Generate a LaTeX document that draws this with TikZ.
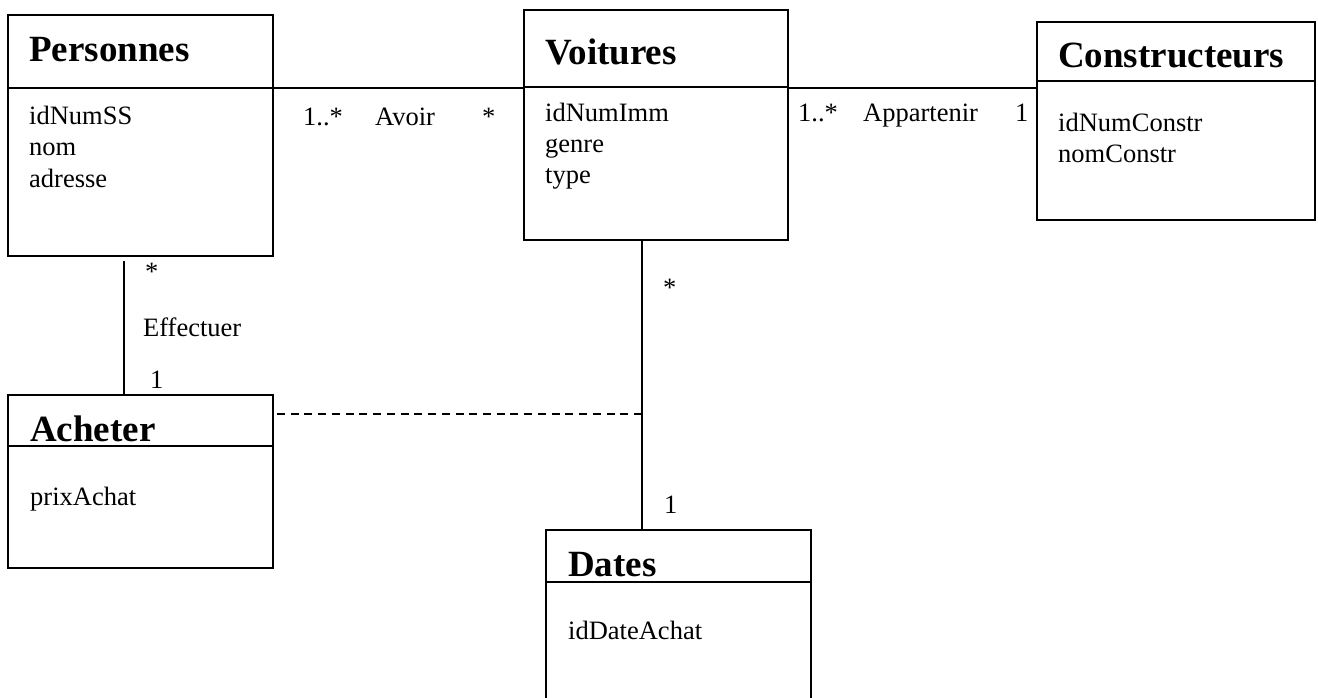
\documentclass[tikz,border=0pt]{standalone}
\usepackage{fontspec}
\setmainfont{Liberation Serif}
\usetikzlibrary{calc}
\begin{document}
\begin{tikzpicture}[x=1pt,y=-1pt,
  box/.style={draw, line width=2pt, inner sep=0pt, outer sep=0pt, anchor=north west},
  divider/.style={line width=2pt},
  conn/.style={line width=1.8pt},
  dashconn/.style={line width=1.8pt, dash pattern=on 8pt off 5.73pt},
  title/.style={anchor=base west, inner sep=0pt, font=\fontsize{37}{44}\selectfont\bfseries},
  attr/.style={anchor=base west, inner sep=0pt, font=\fontsize{26.5}{31}\selectfont},
  lbl/.style={anchor=base west, inner sep=0pt, font=\fontsize{26.5}{31}\selectfont}]
\clip (0,0) rectangle (1318,698);
\fill[white] (0,0) rectangle (1318,698);

% boxes
\node[box, minimum width=265, minimum height=241] (pers) at (8,15) {};
\node[box, minimum width=264, minimum height=230] (voit) at (524,10) {};
\node[box, minimum width=278, minimum height=198] (cons) at (1037,22) {};
\node[box, minimum width=265, minimum height=173] (ach) at (8,395) {};
\node[box, minimum width=265, minimum height=200] (dates) at (546,530) {};

% dividers
\draw[divider] ($(pers.north west)+(0,73)$) -- ($(pers.north east)+(0,73)$);
\draw[divider] ($(voit.north west)+(0,77)$) -- ($(voit.north east)+(0,77)$);
\draw[divider] ($(cons.north west)+(0,59)$) -- ($(cons.north east)+(0,59)$);
\draw[divider] ($(ach.north west)+(0,51)$) -- ($(ach.north east)+(0,51)$);
\draw[divider] ($(dates.north west)+(0,52)$) -- ($(dates.north east)+(0,52)$);

% titles
\node[title] (tpers) at (29,62) {Personnes};
\node[title] (tvoit) at (545,65) {Voitures};
\node[title] (tcons) at (1058,68) {Constructeurs};
\node[title] (tach) at (30,441) {Acheter};
\node[title] (tdates) at (568,576) {Dates};

% attributes
\node[attr] (a1) at (29,125) {idNumSS};
\node[attr] (a2) at (29,156) {nom};
\node[attr] (a3) at (29,187) {adresse};
\node[attr] (b1) at (545,122) {idNumImm};
\node[attr] (b2) at (545,153) {genre};
\node[attr] (b3) at (545,184) {type};
\node[attr] (c1) at (1058,132) {idNumConstr};
\node[attr] (c2) at (1058,163) {nomConstr};
\node[attr] (d1) at (30,505) {prixAchat};
\node[attr] (e1) at (568,639) {idDateAchat};

% connectors
\draw[conn] ($(pers.north east)+(0,73)$) -- ($(voit.north west)+(0,78)$);
\draw[conn] ($(voit.north east)+(0,78)$) -- ($(cons.north west)+(0,66)$);
\draw[conn] ($(pers.south west)+(116,5)$) -- ($(ach.north west)+(116,0)$);
\draw[conn] ($(voit.south west)+(118,0)$) -- ($(dates.north west)+(96,0)$);
\coordinate (vd) at ($(voit.south west)+(118,174)$);
\draw[dashconn] (vd) -- ($(ach.north east)+(4,19)$);

% labels
\node[lbl] (l1) at (303,126) {1..*};
\node[lbl] (l2) at (375,126) {Avoir};
\node[lbl] (l3) at (482,126) {*};
\node[lbl] (l4) at (798,122) {1..*};
\node[lbl] (l5) at (863,122) {Appartenir};
\node[lbl] (l6) at (1015,122) {1};
\node[lbl] (l7) at (145,280) {*};
\node[lbl] (l8) at (143,336) {Effectuer};
\node[lbl] (l9) at (150,388) {1};
\node[lbl] (l10) at (663,296) {*};
\node[lbl] (l11) at (664,513) {1};
\end{tikzpicture}
\end{document}
